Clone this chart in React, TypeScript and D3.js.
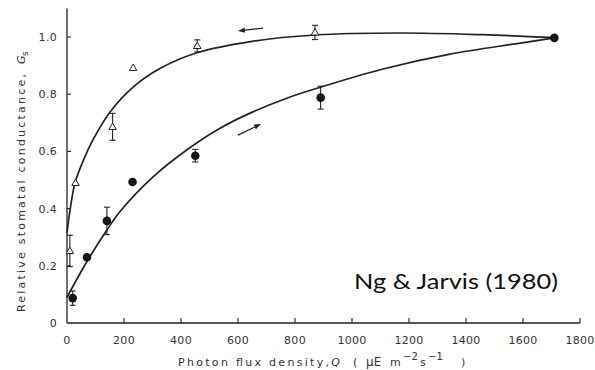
import React from "react";
import * as d3 from "d3";

// Filled circles: increasing irradiance
const upX = [20, 70, 140, 230, 450, 890, 1710];
const upY = [0.087, 0.23, 0.357, 0.493, 0.585, 0.788, 0.997];
const upErr = [0.025, 0, 0.048, 0, 0.022, 0.04, 0];

// Open triangles: decreasing irradiance
const downX = [10, 30, 160, 232, 457, 870];
const downY = [0.252, 0.49, 0.686, 0.892, 0.969, 1.016];
const downErr = [0.055, 0, 0.047, 0, 0.021, 0.025];

// Fitted curves
const curveDownX = [0, 10, 28, 60, 91, 151, 232, 326, 456, 650, 870, 1168, 1460, 1710];
const curveDownY = [0.315, 0.39, 0.49, 0.575, 0.64, 0.738, 0.825, 0.89, 0.945, 0.985, 1.007, 1.014, 1.008, 0.998];
const curveUpX = [0, 70, 140, 186, 303, 420, 537, 654, 771, 888, 1109, 1344, 1579, 1710];
const curveUpY = [0.09, 0.215, 0.325, 0.39, 0.512, 0.605, 0.681, 0.739, 0.786, 0.824, 0.888, 0.94, 0.977, 0.997];

// Direction arrows [x1, y1, x2, y2] in data units (head at x2,y2)
const arrows = [
  [688, 1.031, 600, 1.021],
  [600, 0.657, 681, 0.696],
];

const xTicks = [0, 200, 400, 600, 800, 1000, 1200, 1400, 1600, 1800];
const yTicks = [0, 0.2, 0.4, 0.6, 0.8, 1.0];
const yTickLabels = ["0", "0.2", "0.4", "0.6", "0.8", "1.0"];

export default function App() {
  const W = 595, H = 370;
  const x = d3.scaleLinear().domain([0, 1800]).range([67, 580]);
  const y = d3.scaleLinear().domain([0, 1]).range([323, 37]);
  const ink = "#222";
  const txt = "#333";
  const line = d3.line<[number, number]>().x(d => x(d[0])).y(d => y(d[1])).curve(d3.curveCatmullRom.alpha(0.5));
  const tri = d3.symbol().type(d3.symbolTriangle).size(24)();
  const tickFont = { fontFamily: "DejaVu Sans", fontSize: 11, fill: txt, letterSpacing: 0.3 } as any;

  const errBar = (cx: number, cy: number, e: number, key: string) =>
    e > 0 ? (
      <g key={key} stroke={ink} strokeWidth={1.1}>
        <line x1={x(cx)} x2={x(cx)} y1={y(cy - e)} y2={y(cy + e)} />
        <line x1={x(cx) - 3} x2={x(cx) + 3} y1={y(cy - e)} y2={y(cy - e)} />
        <line x1={x(cx) - 3} x2={x(cx) + 3} y1={y(cy + e)} y2={y(cy + e)} />
      </g>
    ) : null;

  return (
    <svg width={W} height={H} style={{ position: "absolute", left: 0, top: 0, background: "#fff" }}>
      <rect width={W} height={H} fill="#fff" />
      {/* axes */}
      <line x1={x(0)} x2={x(0)} y1={y(0)} y2={y(1.1)} stroke={ink} strokeWidth={1.3} />
      <line x1={x(0)} x2={x(1800)} y1={y(0)} y2={y(0)} stroke={ink} strokeWidth={1.3} />
      {xTicks.map(t => (
        <g key={"xt" + t}>
          {t > 0 && <line x1={x(t)} x2={x(t)} y1={y(0)} y2={y(0) - 5} stroke={ink} strokeWidth={1.1} />}
          <text x={x(t)} y={344} textAnchor="middle" {...tickFont}>{t}</text>
        </g>
      ))}
      {yTicks.map((t, i) => (
        <g key={"yt" + t}>
          {t > 0 && <line x1={x(0)} x2={x(0) + 4} y1={y(t)} y2={y(t)} stroke={ink} strokeWidth={1.1} />}
          <text x={57} y={y(t)} dy="0.36em" textAnchor="end" {...tickFont}>{yTickLabels[i]}</text>
        </g>
      ))}

      {/* curves */}
      <path d={line(curveDownX.map((v, i) => [v, curveDownY[i]]) as any) || ""} fill="none" stroke={ink} strokeWidth={1.7} />
      <path d={line(curveUpX.map((v, i) => [v, curveUpY[i]]) as any) || ""} fill="none" stroke={ink} strokeWidth={1.7} />

      {/* error bars */}
      {upX.map((v, i) => errBar(v, upY[i], upErr[i], "ue" + i))}
      {downX.map((v, i) => errBar(v, downY[i], downErr[i], "de" + i))}

      {/* points */}
      {downX.map((v, i) => (
        <path key={"tr" + i} d={tri || ""} transform={`translate(${x(v)},${y(downY[i]) + 0.5})`} fill="#fff" stroke={ink} strokeWidth={1} />
      ))}
      {upX.map((v, i) => (
        <circle key={"c" + i} cx={x(v)} cy={y(upY[i])} r={4.3} fill="#151515" />
      ))}

      {/* arrows */}
      {arrows.map((a, i) => {
        const x1 = x(a[0]), y1 = y(a[1]), x2 = x(a[2]), y2 = y(a[3]);
        const ang = Math.atan2(y2 - y1, x2 - x1);
        const L = 7, Wd = 2.6;
        const bx = x2 - L * Math.cos(ang), by = y2 - L * Math.sin(ang);
        const px = -Math.sin(ang) * Wd, py = Math.cos(ang) * Wd;
        return (
          <g key={"ar" + i}>
            <line x1={x1} y1={y1} x2={bx} y2={by} stroke={ink} strokeWidth={1.3} />
            <path d={`M${x2},${y2}L${bx + px},${by + py}L${bx - px},${by - py}Z`} fill={ink} />
          </g>
        );
      })}

      {/* x axis title */}
      <text x={178} y={366} textLength={162} lengthAdjust="spacing" fontFamily="DejaVu Sans" fontSize={11} fill={txt}>
        Photon flux density,<tspan fontStyle="italic">Q</tspan>
      </text>
      <g fontFamily="DejaVu Sans" fontSize={11} fill={txt}>
        <text x={353} y={366}>(</text>
        <text x={366} y={366} fontSize={12}>μE</text>
        <text x={390} y={366} letterSpacing={0.5}>m</text>
        <text x={403} y={360} fontSize={10}>−2</text>
        <text x={420} y={366}>s</text>
        <text x={428} y={360} fontSize={10}>−1</text>
        <text x={461} y={366}>)</text>
      </g>

      {/* y axis title */}
      <g transform="translate(25,312) rotate(-90)" fontFamily="DejaVu Sans" fontSize={11} fill={txt}>
        <text x={0} y={0} textLength={238} lengthAdjust="spacing">Relative stomatal conductance,</text>
        <text x={248} y={0} fontStyle="italic">G</text>
        <text x={256} y={3} fontSize={9}>s</text>
      </g>

      {/* annotation */}
      <text x={354} y={289} fontFamily="Lato" fontSize={22} fill="#111" textLength={204} lengthAdjust="spacingAndGlyphs">
        Ng &amp; Jarvis (1980)
      </text>
    </svg>
  );
}
